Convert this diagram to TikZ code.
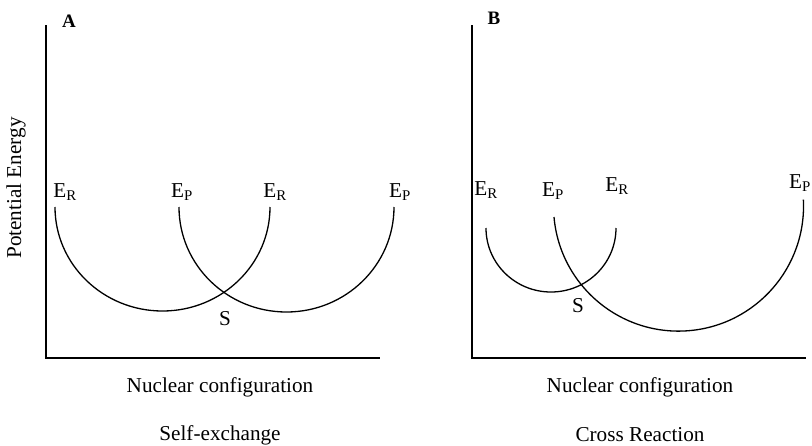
\documentclass[tikz,border=0pt]{standalone}
\usepackage{fontspec}
\setmainfont{Liberation Serif}
\begin{document}
\begin{tikzpicture}[x=1pt,y=-1pt,
  axis/.style={line width=1.6pt},
  curve/.style={line width=1.3pt},
  lbl/.style={inner sep=0pt,font=\fontsize{21.2}{25}\selectfont},
  panel/.style={inner sep=0pt,font=\fontsize{19}{22}\selectfont\bfseries}]
\useasboundingbox (0,0) rectangle (812,445);
% Panel A
\coordinate (aTop) at (46,25);
\coordinate (aOrig) at (46,358);
\coordinate (aEnd) at (380,358);
\draw[axis] (aTop) -- (aOrig) -- (aEnd);
\node[panel] (lA) at (69,21) {A};
\node[lbl,rotate=90] (yA) at (16,188) {Potential Energy};
\draw[curve] (55,207) arc[start angle=180,end angle=0,x radius=107.5,y radius=104];
\draw[curve] (179,207) arc[start angle=180,end angle=0,x radius=107.5,y radius=105];
\node[lbl] (a1) at (65,192) {E\textsubscript{R}};
\node[lbl] (a2) at (182,192) {E\textsubscript{P}};
\node[lbl] (a3) at (275,192) {E\textsubscript{R}};
\node[lbl] (a4) at (400,192) {E\textsubscript{P}};
\node[lbl] (aS) at (225,319) {S};
\node[lbl] (xA) at (220,387) {Nuclear configuration};
\node[lbl] (tA) at (220,435) {Self-exchange};
% Panel B
\coordinate (bTop) at (472,25);
\coordinate (bOrig) at (472,358);
\coordinate (bEnd) at (806,358);
\draw[axis] (bTop) -- (bOrig) -- (bEnd);
\node[panel] (lB) at (494,18) {B};
\draw[curve] (486,228) arc[start angle=180,end angle=0,x radius=65,y radius=64];
\draw[curve] (554,217) arc[start angle=175,end angle=-3,radius=125];
\node[lbl] (b1) at (486,190) {E\textsubscript{R}};
\node[lbl] (b2) at (553,191) {E\textsubscript{P}};
\node[lbl] (b3) at (617,186) {E\textsubscript{R}};
\node[lbl] (b4) at (800,183) {E\textsubscript{P}};
\node[lbl] (bS) at (578,306) {S};
\node[lbl] (xB) at (640,387) {Nuclear configuration};
\node[lbl] (tB) at (640,435) {Cross Reaction};
\end{tikzpicture}
\end{document}
